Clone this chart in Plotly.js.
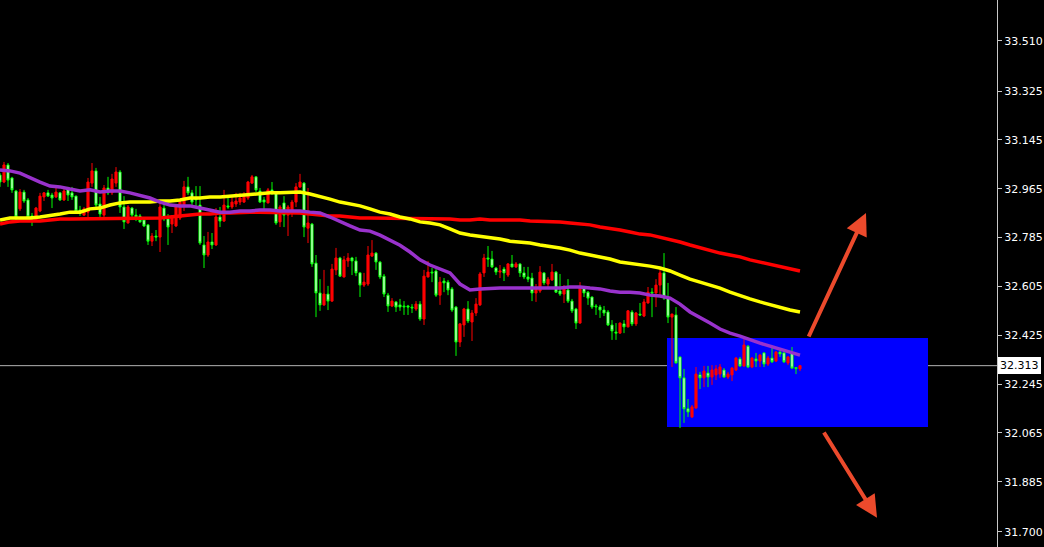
<!DOCTYPE html>
<html>
<head>
<meta charset="utf-8">
<script src="https://cdn.plot.ly/plotly-3.0.1.min.js"></script>
<style>
  html, body { margin: 0; padding: 0; background: #000; }
  #chart { width: 1044px; height: 547px; }
</style>
</head>
<body>
<div id="chart"></div>
<script>
// OHLC bars, one per period (oldest first)
const open = [33.016,32.990,33.053,33.005,32.957,32.891,32.953,32.924,32.865,32.850,32.883,32.935,32.950,32.942,32.935,32.950,32.924,32.964,32.950,32.938,32.887,32.868,32.879,32.986,33.031,32.909,32.868,32.968,32.950,32.986,33.027,32.898,32.839,32.894,32.868,32.865,32.850,32.832,32.772,32.791,32.787,32.894,32.854,32.835,32.828,32.857,32.902,32.972,32.950,32.931,32.905,32.758,32.721,32.769,32.758,32.861,32.846,32.902,32.898,32.909,32.916,32.916,32.931,32.986,33.009,32.957,32.924,32.913,32.961,32.950,32.843,32.913,32.868,32.876,32.916,32.972,32.986,32.820,32.835,32.691,32.581,32.537,32.577,32.551,32.666,32.710,32.640,32.699,32.710,32.699,32.655,32.610,32.614,32.717,32.728,32.695,32.643,32.573,32.533,32.548,32.537,32.533,32.533,32.529,32.522,32.540,32.485,32.640,32.658,32.662,32.573,32.625,32.621,32.596,32.529,32.400,32.463,32.522,32.474,32.507,32.537,32.655,32.710,32.706,32.673,32.658,32.669,32.647,32.688,32.677,32.688,32.655,32.640,32.636,32.581,32.588,32.655,32.614,32.629,32.658,32.588,32.577,32.592,32.551,32.522,32.470,32.599,32.584,32.566,32.533,32.529,32.518,32.511,32.463,32.437,32.433,32.467,32.456,32.511,32.467,32.503,32.496,32.544,32.584,32.581,32.610,32.655,32.562,32.492,32.500,32.345,32.268,32.154,32.124,32.157,32.279,32.268,32.286,32.271,32.279,32.282,32.297,32.271,32.279,32.297,32.338,32.312,32.385,32.308,32.338,32.330,32.360,32.319,32.341,32.330,32.363,32.360,32.323,32.360,32.306,32.301];
const high = [33.023,33.064,33.060,33.009,32.961,32.964,32.961,32.931,32.876,32.898,32.950,32.953,32.961,32.950,32.979,32.953,32.968,32.972,32.972,32.940,32.902,32.898,33.005,33.060,33.042,32.935,32.979,33.009,33.020,33.045,33.034,32.938,32.905,32.898,32.891,32.872,32.861,32.835,32.802,32.813,32.924,32.916,32.872,32.868,32.900,32.924,32.994,33.009,32.961,32.975,32.975,32.791,32.806,32.802,32.894,32.898,32.961,32.931,32.942,32.950,32.950,32.953,32.994,33.016,33.011,32.968,32.935,32.968,32.990,32.953,32.905,32.938,32.905,32.924,32.986,33.020,32.990,32.968,32.839,32.721,32.632,32.666,32.607,32.688,32.747,32.714,32.717,32.728,32.714,32.714,32.658,32.655,32.754,32.776,32.732,32.699,32.651,32.581,32.562,32.551,32.559,32.551,32.537,32.540,32.551,32.551,32.666,32.699,32.673,32.669,32.640,32.636,32.629,32.603,32.533,32.470,32.526,32.551,32.518,32.562,32.658,32.725,32.754,32.736,32.677,32.684,32.677,32.691,32.721,32.695,32.691,32.677,32.677,32.655,32.614,32.680,32.658,32.640,32.688,32.662,32.651,32.610,32.632,32.559,32.526,32.621,32.607,32.588,32.568,32.540,32.537,32.533,32.518,32.481,32.470,32.472,32.481,32.518,32.518,32.511,32.544,32.559,32.603,32.599,32.632,32.669,32.728,32.618,32.505,32.529,32.347,32.301,32.190,32.168,32.308,32.290,32.312,32.312,32.315,32.315,32.319,32.304,32.290,32.308,32.345,32.345,32.415,32.389,32.345,32.360,32.356,32.363,32.349,32.382,32.367,32.378,32.367,32.349,32.382,32.308,32.315];
const low = [32.972,32.986,32.972,32.950,32.843,32.883,32.913,32.857,32.828,32.846,32.879,32.920,32.935,32.894,32.931,32.920,32.920,32.920,32.924,32.876,32.865,32.865,32.861,32.972,32.898,32.857,32.861,32.942,32.942,32.972,32.876,32.817,32.837,32.861,32.846,32.839,32.824,32.758,32.754,32.772,32.732,32.846,32.758,32.802,32.824,32.850,32.883,32.942,32.905,32.898,32.758,32.673,32.714,32.743,32.754,32.824,32.843,32.891,32.891,32.898,32.905,32.913,32.924,32.983,32.953,32.913,32.879,32.911,32.942,32.832,32.824,32.824,32.791,32.861,32.898,32.968,32.787,32.765,32.677,32.492,32.515,32.533,32.518,32.548,32.647,32.640,32.638,32.677,32.647,32.643,32.566,32.603,32.607,32.714,32.666,32.632,32.566,32.511,32.529,32.511,32.515,32.500,32.500,32.507,32.515,32.478,32.463,32.638,32.621,32.566,32.537,32.584,32.573,32.511,32.349,32.382,32.419,32.470,32.404,32.496,32.533,32.640,32.677,32.673,32.647,32.636,32.625,32.640,32.675,32.673,32.640,32.632,32.621,32.551,32.548,32.581,32.610,32.603,32.625,32.581,32.570,32.544,32.544,32.507,32.448,32.468,32.566,32.537,32.522,32.500,32.489,32.496,32.459,32.408,32.408,32.430,32.433,32.454,32.459,32.459,32.496,32.492,32.542,32.492,32.529,32.566,32.555,32.470,32.308,32.321,32.083,32.102,32.124,32.120,32.154,32.227,32.234,32.234,32.242,32.260,32.268,32.268,32.264,32.256,32.293,32.308,32.308,32.304,32.304,32.308,32.308,32.308,32.312,32.323,32.327,32.345,32.323,32.315,32.301,32.282,32.293];
const close = [32.990,33.053,32.997,32.961,32.861,32.953,32.920,32.861,32.854,32.894,32.938,32.950,32.938,32.931,32.953,32.924,32.957,32.942,32.935,32.883,32.876,32.891,32.990,33.031,32.905,32.872,32.968,32.950,33.001,33.027,32.898,32.843,32.898,32.868,32.861,32.843,32.828,32.772,32.791,32.787,32.898,32.854,32.824,32.865,32.898,32.916,32.972,32.950,32.916,32.924,32.765,32.721,32.769,32.758,32.861,32.846,32.905,32.898,32.916,32.920,32.931,32.942,32.990,33.009,32.961,32.916,32.916,32.961,32.950,32.839,32.898,32.868,32.898,32.916,32.972,32.990,32.824,32.839,32.688,32.581,32.537,32.577,32.551,32.669,32.710,32.643,32.703,32.710,32.699,32.655,32.610,32.621,32.721,32.728,32.695,32.640,32.577,32.533,32.551,32.529,32.529,32.530,32.529,32.526,32.540,32.485,32.643,32.658,32.655,32.573,32.621,32.618,32.592,32.518,32.400,32.467,32.522,32.478,32.507,32.540,32.651,32.710,32.706,32.677,32.658,32.662,32.655,32.688,32.677,32.688,32.655,32.640,32.632,32.581,32.599,32.658,32.618,32.632,32.658,32.584,32.577,32.596,32.551,32.515,32.470,32.603,32.581,32.562,32.529,32.530,32.518,32.507,32.463,32.441,32.433,32.470,32.456,32.515,32.467,32.507,32.500,32.548,32.584,32.581,32.610,32.655,32.562,32.492,32.503,32.323,32.268,32.154,32.142,32.161,32.282,32.268,32.293,32.271,32.297,32.301,32.308,32.271,32.282,32.304,32.341,32.312,32.389,32.308,32.341,32.330,32.352,32.319,32.341,32.327,32.363,32.356,32.327,32.345,32.304,32.302,32.313];

// moving averages, sampled every 2.5 bars
const maBar = [0,2.5,5,7.5,10,12.5,15,17.5,20,22.5,25,27.5,30,32.5,35,37.5,40,42.5,45,47.5,50,52.5,55,57.5,60,62.5,65,67.5,70,72.5,75,77.5,80,82.5,85,87.5,90,92.5,95,97.5,100,102.5,105,107.5,110,112.5,115,117.5,120,122.5,125,127.5,130,132.5,135,137.5,140,142.5,145,147.5,150,152.5,155,157.5,160,162.5,165,167.5,170,172.5,175,177.5,180,182.5,185,187.5,190,192.5,195,197.5,200];
const maFast = [33.034,33.031,33.023,33.005,32.990,32.975,32.972,32.964,32.957,32.961,32.953,32.957,32.957,32.950,32.942,32.931,32.916,32.905,32.902,32.902,32.894,32.887,32.879,32.879,32.883,32.883,32.887,32.887,32.883,32.883,32.883,32.879,32.876,32.861,32.843,32.828,32.813,32.809,32.794,32.776,32.757,32.732,32.703,32.684,32.669,32.655,32.614,32.592,32.596,32.599,32.599,32.599,32.599,32.599,32.599,32.599,32.599,32.603,32.603,32.599,32.596,32.588,32.584,32.584,32.581,32.573,32.570,32.562,32.540,32.511,32.492,32.470,32.448,32.433,32.422,32.408,32.396,32.385,32.374,32.363,32.352];
const maMid = [32.850,32.857,32.857,32.857,32.861,32.865,32.872,32.879,32.879,32.891,32.894,32.905,32.913,32.916,32.916,32.916,32.920,32.920,32.924,32.931,32.931,32.935,32.935,32.938,32.942,32.946,32.946,32.950,32.950,32.950,32.953,32.946,32.938,32.927,32.916,32.909,32.902,32.891,32.879,32.872,32.861,32.854,32.843,32.839,32.832,32.817,32.802,32.795,32.791,32.784,32.780,32.772,32.769,32.765,32.758,32.754,32.747,32.739,32.728,32.721,32.714,32.706,32.695,32.691,32.684,32.680,32.673,32.662,32.647,32.632,32.621,32.610,32.599,32.584,32.570,32.559,32.548,32.537,32.529,32.518,32.511];
const maSlow = [32.835,32.843,32.846,32.846,32.846,32.850,32.854,32.854,32.854,32.857,32.857,32.857,32.857,32.857,32.857,32.857,32.857,32.861,32.865,32.868,32.872,32.872,32.876,32.876,32.879,32.879,32.879,32.879,32.879,32.879,32.876,32.872,32.868,32.865,32.865,32.861,32.857,32.857,32.857,32.857,32.857,32.857,32.857,32.857,32.854,32.854,32.850,32.850,32.854,32.850,32.850,32.850,32.850,32.846,32.846,32.843,32.843,32.839,32.835,32.832,32.824,32.820,32.813,32.806,32.798,32.795,32.787,32.780,32.769,32.758,32.747,32.739,32.728,32.721,32.714,32.703,32.695,32.688,32.680,32.669,32.662];

// price scale labels and the last traded price
const priceTicks = [33.510, 33.325, 33.145, 32.965, 32.785, 32.605, 32.425, 32.245, 32.065, 31.885, 31.700];
const lastPrice = 32.313;

// consolidation zone and the two breakout scenarios
const zone = { fromBar: 166.75, toBar: 232, low: 32.087, high: 32.415 };
const breakoutUp = { fromBar: 202, fromPrice: 32.415, toBar: 216.5, toPrice: 32.876 };
const breakoutDown = { fromBar: 205.75, fromPrice: 32.072, toBar: 219.25, toPrice: 31.752 };

const bars = open.map((_, i) => i);

const candles = {
  type: 'candlestick',
  x: bars, open: open, high: high, low: low, close: close,
  increasing: { line: { color: '#ff0000', width: 1 }, fillcolor: '#ff0000' },
  decreasing: { line: { color: '#00ff00', width: 1 }, fillcolor: '#ffffff' },
  whiskerwidth: 0,
  hoverinfo: 'skip'
};

function maLine(values, color) {
  return {
    type: 'scatter', mode: 'lines', x: maBar, y: values,
    line: { color: color, width: 3.5 }, hoverinfo: 'skip'
  };
}

const arrowColor = '#ec4a2c';
function arrow(a) {
  return {
    xref: 'x', yref: 'y', axref: 'x', ayref: 'y',
    x: a.toBar, y: a.toPrice, ax: a.fromBar, ay: a.fromPrice,
    text: '', showarrow: true, arrowhead: 2, arrowsize: 1.1,
    arrowwidth: 4, arrowcolor: arrowColor
  };
}

const layout = {
  width: 1044, height: 547,
  margin: { l: 0, r: 47, t: 0, b: 0, pad: 0 },
  paper_bgcolor: '#000000', plot_bgcolor: '#000000',
  showlegend: false,
  boxgap: 0.25,
  xaxis: {
    range: [0, 249.25], visible: false, showgrid: false, zeroline: false,
    rangeslider: { visible: false }, fixedrange: true
  },
  yaxis: {
    side: 'right', range: [31.6445, 33.661],
    tickvals: priceTicks, ticktext: priceTicks.map(v => v.toFixed(3)),
    showgrid: false, zeroline: false,
    showline: true, linecolor: '#c8c8c8', linewidth: 1,
    ticks: 'outside', ticklen: 4, tickcolor: '#c8c8c8', tickwidth: 1,
    tickfont: { family: 'DejaVu Sans, Verdana, sans-serif', size: 11, color: '#ffffff' },
    fixedrange: true
  },
  shapes: [
    { type: 'rect', layer: 'below', xref: 'x', yref: 'y',
      x0: zone.fromBar, x1: zone.toBar, y0: zone.low, y1: zone.high,
      fillcolor: '#0000ff', line: { width: 0 } },
    { type: 'line', layer: 'below', xref: 'paper', yref: 'y',
      x0: 0, x1: 1, y0: lastPrice, y1: lastPrice,
      line: { color: '#b4b4b4', width: 1 } }
  ],
  annotations: [
    arrow(breakoutUp),
    arrow(breakoutDown),
    { xref: 'paper', yref: 'y', x: 1, y: lastPrice, xanchor: 'left', yanchor: 'middle',
      xshift: 1, text: lastPrice.toFixed(3), showarrow: false,
      bgcolor: '#ffffff', borderpad: 2, borderwidth: 0,
      font: { family: 'DejaVu Sans, Verdana, sans-serif', size: 11, color: '#000000' } }
  ]
};

Plotly.newPlot('chart', [candles, maLine(maSlow, '#ff0000'), maLine(maMid, '#ffff00'), maLine(maFast, '#9932cc')], layout, { staticPlot: true, displayModeBar: false });
</script>
</body>
</html>
